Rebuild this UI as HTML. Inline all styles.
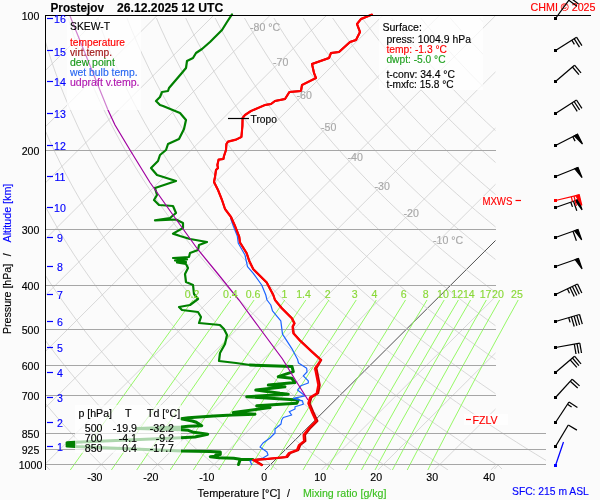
<!DOCTYPE html>
<html><head><meta charset="utf-8"><style>
html,body{margin:0;padding:0;background:#fbfbfb;}
body{width:600px;height:500px;overflow:hidden;position:relative;font-family:"Liberation Sans",sans-serif;}
svg{position:absolute;left:0;top:0;will-change:transform;}
text{font-family:"Liberation Sans",sans-serif;white-space:pre;}
</style></head><body>
<svg width="600" height="500" viewBox="0 0 600 500" xml:space="preserve">
<defs><clipPath id="cp"><rect x="45.5" y="15.5" width="450" height="454.5"/></clipPath></defs>
<g clip-path="url(#cp)" fill="none" stroke-width="0.75">
<line x1="-412.3" y1="470.0" x2="44.2" y2="15.5" stroke="#cccccc"/>
<line x1="-355.8" y1="470.0" x2="100.6" y2="15.5" stroke="#cccccc"/>
<line x1="-299.4" y1="470.0" x2="157.1" y2="15.5" stroke="#cccccc"/>
<line x1="-243.0" y1="470.0" x2="213.5" y2="15.5" stroke="#cccccc"/>
<line x1="-186.5" y1="470.0" x2="269.9" y2="15.5" stroke="#cccccc"/>
<line x1="-130.1" y1="470.0" x2="326.4" y2="15.5" stroke="#cccccc"/>
<line x1="-73.6" y1="470.0" x2="382.8" y2="15.5" stroke="#cccccc"/>
<line x1="-17.2" y1="470.0" x2="439.3" y2="15.5" stroke="#cccccc"/>
<line x1="39.2" y1="470.0" x2="495.7" y2="15.5" stroke="#cccccc"/>
<line x1="95.7" y1="470.0" x2="552.1" y2="15.5" stroke="#cccccc"/>
<line x1="152.1" y1="470.0" x2="608.6" y2="15.5" stroke="#cccccc"/>
<line x1="208.6" y1="470.0" x2="665.0" y2="15.5" stroke="#cccccc"/>
<line x1="265.0" y1="470.0" x2="721.5" y2="15.5" stroke="#505050" stroke-width="1"/>
<line x1="321.4" y1="470.0" x2="777.9" y2="15.5" stroke="#cccccc"/>
<line x1="377.9" y1="470.0" x2="834.3" y2="15.5" stroke="#cccccc"/>
<line x1="434.3" y1="470.0" x2="890.8" y2="15.5" stroke="#cccccc"/>
<line x1="490.8" y1="470.0" x2="947.2" y2="15.5" stroke="#cccccc"/>
<polyline stroke="#cccccc" points="49.9,470.0 46.1,466.0 42.5,462.0 38.8,458.0 35.3,454.0 31.7,450.0 28.2,446.0 24.8,442.0 21.4,438.0 18.0,434.0 14.7,430.0 11.4,426.0 8.2,422.0 5.0,418.0 1.9,414.0 -1.3,410.0 -4.3,406.0 -7.3,402.0 -10.3,398.0 -13.3,394.0 -16.2,390.0 -19.0,386.0 -21.9,382.0 -24.6,378.0 -27.4,374.0 -30.1,370.0 -32.7,366.0 -35.4,362.0 -38.0,358.0 -40.5,354.0 -43.0,350.0 -45.5,346.0 -47.9,342.0 -50.3,338.0 -52.7,334.0 -55.0,330.0 -57.3,326.0 -59.5,322.0 -61.7,318.0 -63.9,314.0 -66.1,310.0 -68.2,306.0 -70.2,302.0 -72.3,298.0 -74.3,294.0 -76.2,290.0 -78.1,286.0 -80.0,282.0 -81.9,278.0 -83.7,274.0 -85.5,270.0 -87.3,266.0 -89.0,262.0 -90.7,258.0 -92.3,254.0 -93.9,250.0 -95.5,246.0 -97.1,242.0 -98.6,238.0 -100.1,234.0 -101.6,230.0 -103.0,226.0 -104.4,222.0 -105.8,218.0 -107.1,214.0 -108.4,210.0 -109.7,206.0 -110.9,202.0 -112.1,198.0 -113.3,194.0 -114.4,190.0 -115.6,186.0 -116.6,182.0 -117.7,178.0 -118.7,174.0 -119.7,170.0 -120.7,166.0 -121.6,162.0 -122.6,158.0 -123.4,154.0 -124.3,150.0 -125.1,146.0 -125.9,142.0 -126.7,138.0 -127.4,134.0 -128.1,130.0 -128.8,126.0 -129.5,122.0 -130.1,118.0 -130.7,114.0 -131.3,110.0 -131.9,106.0 -132.4,102.0 -132.9,98.0 -133.4,94.0 -133.8,90.0 -134.2,86.0 -134.6,82.0 -135.0,78.0 -135.3,74.0 -135.6,70.0 -135.9,66.0 -136.2,62.0 -136.4,58.0 -136.7,54.0 -136.9,50.0 -137.0,46.0 -137.2,42.0 -137.3,38.0 -137.4,34.0 -137.5,30.0 -137.5,26.0 -137.5,22.0 -137.5,18.0"/>
<polyline stroke="#cccccc" points="106.8,470.0 102.7,466.0 98.7,462.0 94.8,458.0 90.8,454.0 87.0,450.0 83.2,446.0 79.4,442.0 75.7,438.0 72.0,434.0 68.4,430.0 64.8,426.0 61.2,422.0 57.7,418.0 54.3,414.0 50.9,410.0 47.5,406.0 44.2,402.0 40.9,398.0 37.6,394.0 34.4,390.0 31.3,386.0 28.2,382.0 25.1,378.0 22.1,374.0 19.1,370.0 16.1,366.0 13.2,362.0 10.3,358.0 7.5,354.0 4.7,350.0 2.0,346.0 -0.7,342.0 -3.4,338.0 -6.0,334.0 -8.6,330.0 -11.2,326.0 -13.7,322.0 -16.2,318.0 -18.6,314.0 -21.0,310.0 -23.4,306.0 -25.7,302.0 -28.0,298.0 -30.3,294.0 -32.5,290.0 -34.7,286.0 -36.8,282.0 -38.9,278.0 -41.0,274.0 -43.0,270.0 -45.0,266.0 -47.0,262.0 -48.9,258.0 -50.8,254.0 -52.7,250.0 -54.5,246.0 -56.3,242.0 -58.1,238.0 -59.8,234.0 -61.5,230.0 -63.2,226.0 -64.8,222.0 -66.4,218.0 -68.0,214.0 -69.5,210.0 -71.0,206.0 -72.4,202.0 -73.9,198.0 -75.3,194.0 -76.6,190.0 -78.0,186.0 -79.3,182.0 -80.6,178.0 -81.8,174.0 -83.0,170.0 -84.2,166.0 -85.4,162.0 -86.5,158.0 -87.6,154.0 -88.7,150.0 -89.7,146.0 -90.7,142.0 -91.7,138.0 -92.6,134.0 -93.5,130.0 -94.4,126.0 -95.3,122.0 -96.1,118.0 -96.9,114.0 -97.7,110.0 -98.4,106.0 -99.2,102.0 -99.9,98.0 -100.5,94.0 -101.2,90.0 -101.8,86.0 -102.3,82.0 -102.9,78.0 -103.4,74.0 -103.9,70.0 -104.4,66.0 -104.9,62.0 -105.3,58.0 -105.7,54.0 -106.1,50.0 -106.4,46.0 -106.7,42.0 -107.0,38.0 -107.3,34.0 -107.5,30.0 -107.8,26.0 -108.0,22.0 -108.1,18.0"/>
<polyline stroke="#cccccc" points="163.7,470.0 159.3,466.0 154.9,462.0 150.7,458.0 146.4,454.0 142.2,450.0 138.1,446.0 134.0,442.0 130.0,438.0 126.0,434.0 122.0,430.0 118.1,426.0 114.3,422.0 110.5,418.0 106.7,414.0 103.0,410.0 99.3,406.0 95.7,402.0 92.1,398.0 88.6,394.0 85.1,390.0 81.6,386.0 78.2,382.0 74.8,378.0 71.5,374.0 68.2,370.0 65.0,366.0 61.8,362.0 58.6,358.0 55.5,354.0 52.5,350.0 49.4,346.0 46.5,342.0 43.5,338.0 40.6,334.0 37.7,330.0 34.9,326.0 32.1,322.0 29.4,318.0 26.7,314.0 24.0,310.0 21.4,306.0 18.8,302.0 16.2,298.0 13.7,294.0 11.3,290.0 8.8,286.0 6.4,282.0 4.1,278.0 1.7,274.0 -0.6,270.0 -2.8,266.0 -5.0,262.0 -7.2,258.0 -9.3,254.0 -11.4,250.0 -13.5,246.0 -15.5,242.0 -17.5,238.0 -19.5,234.0 -21.4,230.0 -23.3,226.0 -25.2,222.0 -27.0,218.0 -28.8,214.0 -30.6,210.0 -32.3,206.0 -34.0,202.0 -35.6,198.0 -37.3,194.0 -38.9,190.0 -40.4,186.0 -41.9,182.0 -43.4,178.0 -44.9,174.0 -46.3,170.0 -47.7,166.0 -49.1,162.0 -50.4,158.0 -51.7,154.0 -53.0,150.0 -54.3,146.0 -55.5,142.0 -56.6,138.0 -57.8,134.0 -58.9,130.0 -60.0,126.0 -61.1,122.0 -62.1,118.0 -63.1,114.0 -64.1,110.0 -65.0,106.0 -65.9,102.0 -66.8,98.0 -67.7,94.0 -68.5,90.0 -69.3,86.0 -70.1,82.0 -70.8,78.0 -71.5,74.0 -72.2,70.0 -72.9,66.0 -73.5,62.0 -74.1,58.0 -74.7,54.0 -75.3,50.0 -75.8,46.0 -76.3,42.0 -76.8,38.0 -77.2,34.0 -77.6,30.0 -78.0,26.0 -78.4,22.0 -78.8,18.0"/>
<polyline stroke="#cccccc" points="220.5,470.0 215.8,466.0 211.2,462.0 206.6,458.0 202.0,454.0 197.5,450.0 193.0,446.0 188.6,442.0 184.3,438.0 180.0,434.0 175.7,430.0 171.5,426.0 167.3,422.0 163.2,418.0 159.1,414.0 155.1,410.0 151.1,406.0 147.2,402.0 143.3,398.0 139.5,394.0 135.7,390.0 131.9,386.0 128.2,382.0 124.6,378.0 121.0,374.0 117.4,370.0 113.9,366.0 110.4,362.0 107.0,358.0 103.6,354.0 100.2,350.0 96.9,346.0 93.6,342.0 90.4,338.0 87.2,334.0 84.1,330.0 81.0,326.0 78.0,322.0 74.9,318.0 72.0,314.0 69.0,310.0 66.2,306.0 63.3,302.0 60.5,298.0 57.7,294.0 55.0,290.0 52.3,286.0 49.6,282.0 47.0,278.0 44.5,274.0 41.9,270.0 39.4,266.0 37.0,262.0 34.5,258.0 32.2,254.0 29.8,250.0 27.5,246.0 25.2,242.0 23.0,238.0 20.8,234.0 18.6,230.0 16.5,226.0 14.4,222.0 12.3,218.0 10.3,214.0 8.3,210.0 6.4,206.0 4.5,202.0 2.6,198.0 0.7,194.0 -1.1,190.0 -2.9,186.0 -4.6,182.0 -6.3,178.0 -8.0,174.0 -9.6,170.0 -11.2,166.0 -12.8,162.0 -14.4,158.0 -15.9,154.0 -17.4,150.0 -18.8,146.0 -20.2,142.0 -21.6,138.0 -23.0,134.0 -24.3,130.0 -25.6,126.0 -26.9,122.0 -28.1,118.0 -29.3,114.0 -30.5,110.0 -31.6,106.0 -32.7,102.0 -33.8,98.0 -34.8,94.0 -35.9,90.0 -36.8,86.0 -37.8,82.0 -38.7,78.0 -39.6,74.0 -40.5,70.0 -41.4,66.0 -42.2,62.0 -43.0,58.0 -43.7,54.0 -44.5,50.0 -45.2,46.0 -45.9,42.0 -46.5,38.0 -47.1,34.0 -47.7,30.0 -48.3,26.0 -48.8,22.0 -49.4,18.0"/>
<polyline stroke="#cccccc" points="277.4,470.0 272.4,466.0 267.4,462.0 262.5,458.0 257.6,454.0 252.8,450.0 248.0,446.0 243.2,442.0 238.6,438.0 233.9,434.0 229.4,430.0 224.8,426.0 220.4,422.0 215.9,418.0 211.6,414.0 207.2,410.0 202.9,406.0 198.7,402.0 194.5,398.0 190.4,394.0 186.3,390.0 182.3,386.0 178.3,382.0 174.3,378.0 170.4,374.0 166.6,370.0 162.7,366.0 159.0,362.0 155.3,358.0 151.6,354.0 148.0,350.0 144.4,346.0 140.8,342.0 137.3,338.0 133.9,334.0 130.5,330.0 127.1,326.0 123.8,322.0 120.5,318.0 117.3,314.0 114.1,310.0 110.9,306.0 107.8,302.0 104.7,298.0 101.7,294.0 98.7,290.0 95.8,286.0 92.9,282.0 90.0,278.0 87.2,274.0 84.4,270.0 81.6,266.0 78.9,262.0 76.3,258.0 73.6,254.0 71.1,250.0 68.5,246.0 66.0,242.0 63.5,238.0 61.1,234.0 58.7,230.0 56.3,226.0 54.0,222.0 51.7,218.0 49.5,214.0 47.2,210.0 45.1,206.0 42.9,202.0 40.8,198.0 38.7,194.0 36.7,190.0 34.7,186.0 32.8,182.0 30.8,178.0 28.9,174.0 27.1,170.0 25.2,166.0 23.4,162.0 21.7,158.0 20.0,154.0 18.3,150.0 16.6,146.0 15.0,142.0 13.4,138.0 11.8,134.0 10.3,130.0 8.8,126.0 7.4,122.0 5.9,118.0 4.5,114.0 3.2,110.0 1.8,106.0 0.5,102.0 -0.8,98.0 -2.0,94.0 -3.2,90.0 -4.4,86.0 -5.5,82.0 -6.7,78.0 -7.8,74.0 -8.8,70.0 -9.8,66.0 -10.8,62.0 -11.8,58.0 -12.8,54.0 -13.7,50.0 -14.6,46.0 -15.4,42.0 -16.2,38.0 -17.1,34.0 -17.8,30.0 -18.6,26.0 -19.3,22.0 -20.0,18.0"/>
<polyline stroke="#cccccc" points="334.3,470.0 329.0,466.0 323.6,462.0 318.4,458.0 313.2,454.0 308.0,450.0 302.9,446.0 297.9,442.0 292.9,438.0 287.9,434.0 283.0,430.0 278.2,426.0 273.4,422.0 268.7,418.0 264.0,414.0 259.3,410.0 254.8,406.0 250.2,402.0 245.7,398.0 241.3,394.0 236.9,390.0 232.6,386.0 228.3,382.0 224.0,378.0 219.9,374.0 215.7,370.0 211.6,366.0 207.6,362.0 203.6,358.0 199.6,354.0 195.7,350.0 191.8,346.0 188.0,342.0 184.2,338.0 180.5,334.0 176.8,330.0 173.2,326.0 169.6,322.0 166.1,318.0 162.6,314.0 159.1,310.0 155.7,306.0 152.3,302.0 149.0,298.0 145.7,294.0 142.5,290.0 139.3,286.0 136.1,282.0 133.0,278.0 129.9,274.0 126.9,270.0 123.9,266.0 120.9,262.0 118.0,258.0 115.1,254.0 112.3,250.0 109.5,246.0 106.8,242.0 104.1,238.0 101.4,234.0 98.7,230.0 96.2,226.0 93.6,222.0 91.1,218.0 88.6,214.0 86.2,210.0 83.7,206.0 81.4,202.0 79.1,198.0 76.8,194.0 74.5,190.0 72.3,186.0 70.1,182.0 68.0,178.0 65.8,174.0 63.8,170.0 61.7,166.0 59.7,162.0 57.8,158.0 55.8,154.0 53.9,150.0 52.1,146.0 50.2,142.0 48.4,138.0 46.7,134.0 44.9,130.0 43.2,126.0 41.6,122.0 39.9,118.0 38.3,114.0 36.8,110.0 35.2,106.0 33.7,102.0 32.3,98.0 30.8,94.0 29.4,90.0 28.1,86.0 26.7,82.0 25.4,78.0 24.1,74.0 22.9,70.0 21.7,66.0 20.5,62.0 19.3,58.0 18.2,54.0 17.1,50.0 16.1,46.0 15.0,42.0 14.0,38.0 13.0,34.0 12.1,30.0 11.2,26.0 10.3,22.0 9.4,18.0"/>
<polyline stroke="#cccccc" points="391.2,470.0 385.5,466.0 379.9,462.0 374.3,458.0 368.8,454.0 363.3,450.0 357.8,446.0 352.5,442.0 347.2,438.0 341.9,434.0 336.7,430.0 331.5,426.0 326.4,422.0 321.4,418.0 316.4,414.0 311.5,410.0 306.6,406.0 301.7,402.0 296.9,398.0 292.2,394.0 287.5,390.0 282.9,386.0 278.3,382.0 273.8,378.0 269.3,374.0 264.9,370.0 260.5,366.0 256.2,362.0 251.9,358.0 247.6,354.0 243.4,350.0 239.3,346.0 235.2,342.0 231.2,338.0 227.2,334.0 223.2,330.0 219.3,326.0 215.4,322.0 211.6,318.0 207.9,314.0 204.1,310.0 200.5,306.0 196.8,302.0 193.2,298.0 189.7,294.0 186.2,290.0 182.7,286.0 179.3,282.0 176.0,278.0 172.6,274.0 169.3,270.0 166.1,266.0 162.9,262.0 159.7,258.0 156.6,254.0 153.6,250.0 150.5,246.0 147.5,242.0 144.6,238.0 141.7,234.0 138.8,230.0 136.0,226.0 133.2,222.0 130.4,218.0 127.7,214.0 125.1,210.0 122.4,206.0 119.8,202.0 117.3,198.0 114.8,194.0 112.3,190.0 109.9,186.0 107.4,182.0 105.1,178.0 102.8,174.0 100.5,170.0 98.2,166.0 96.0,162.0 93.8,158.0 91.7,154.0 89.6,150.0 87.5,146.0 85.4,142.0 83.4,138.0 81.5,134.0 79.5,130.0 77.6,126.0 75.8,122.0 74.0,118.0 72.2,114.0 70.4,110.0 68.7,106.0 67.0,102.0 65.3,98.0 63.7,94.0 62.1,90.0 60.5,86.0 59.0,82.0 57.5,78.0 56.0,74.0 54.6,70.0 53.2,66.0 51.8,62.0 50.5,58.0 49.2,54.0 47.9,50.0 46.7,46.0 45.5,42.0 44.3,38.0 43.1,34.0 42.0,30.0 40.9,26.0 39.8,22.0 38.8,18.0"/>
<polyline stroke="#cccccc" points="448.1,470.0 442.1,466.0 436.1,462.0 430.2,458.0 424.3,454.0 418.5,450.0 412.8,446.0 407.1,442.0 401.5,438.0 395.9,434.0 390.4,430.0 384.9,426.0 379.5,422.0 374.1,418.0 368.8,414.0 363.6,410.0 358.4,406.0 353.2,402.0 348.2,398.0 343.1,394.0 338.1,390.0 333.2,386.0 328.3,382.0 323.5,378.0 318.7,374.0 314.0,370.0 309.4,366.0 304.7,362.0 300.2,358.0 295.7,354.0 291.2,350.0 286.8,346.0 282.4,342.0 278.1,338.0 273.8,334.0 269.6,330.0 265.4,326.0 261.3,322.0 257.2,318.0 253.2,314.0 249.2,310.0 245.2,306.0 241.3,302.0 237.5,298.0 233.7,294.0 229.9,290.0 226.2,286.0 222.5,282.0 218.9,278.0 215.4,274.0 211.8,270.0 208.3,266.0 204.9,262.0 201.5,258.0 198.1,254.0 194.8,250.0 191.5,246.0 188.3,242.0 185.1,238.0 182.0,234.0 178.9,230.0 175.8,226.0 172.8,222.0 169.8,218.0 166.9,214.0 164.0,210.0 161.1,206.0 158.3,202.0 155.5,198.0 152.8,194.0 150.1,190.0 147.4,186.0 144.8,182.0 142.2,178.0 139.7,174.0 137.2,170.0 134.7,166.0 132.3,162.0 129.9,158.0 127.5,154.0 125.2,150.0 122.9,146.0 120.7,142.0 118.5,138.0 116.3,134.0 114.2,130.0 112.1,126.0 110.0,122.0 108.0,118.0 106.0,114.0 104.0,110.0 102.1,106.0 100.2,102.0 98.3,98.0 96.5,94.0 94.7,90.0 93.0,86.0 91.3,82.0 89.6,78.0 87.9,74.0 86.3,70.0 84.7,66.0 83.2,62.0 81.7,58.0 80.2,54.0 78.7,50.0 77.3,46.0 75.9,42.0 74.5,38.0 73.2,34.0 71.9,30.0 70.6,26.0 69.4,22.0 68.2,18.0"/>
<polyline stroke="#cccccc" points="505.0,470.0 498.7,466.0 492.3,462.0 486.1,458.0 479.9,454.0 473.8,450.0 467.7,446.0 461.7,442.0 455.8,438.0 449.9,434.0 444.0,430.0 438.2,426.0 432.5,422.0 426.9,418.0 421.2,414.0 415.7,410.0 410.2,406.0 404.8,402.0 399.4,398.0 394.0,394.0 388.8,390.0 383.5,386.0 378.4,382.0 373.3,378.0 368.2,374.0 363.2,370.0 358.2,366.0 353.3,362.0 348.5,358.0 343.7,354.0 338.9,350.0 334.2,346.0 329.6,342.0 325.0,338.0 320.4,334.0 315.9,330.0 311.5,326.0 307.1,322.0 302.8,318.0 298.5,314.0 294.2,310.0 290.0,306.0 285.8,302.0 281.7,298.0 277.7,294.0 273.7,290.0 269.7,286.0 265.8,282.0 261.9,278.0 258.1,274.0 254.3,270.0 250.6,266.0 246.9,262.0 243.2,258.0 239.6,254.0 236.1,250.0 232.5,246.0 229.1,242.0 225.7,238.0 222.3,234.0 218.9,230.0 215.6,226.0 212.4,222.0 209.2,218.0 206.0,214.0 202.9,210.0 199.8,206.0 196.8,202.0 193.7,198.0 190.8,194.0 187.9,190.0 185.0,186.0 182.1,182.0 179.3,178.0 176.6,174.0 173.9,170.0 171.2,166.0 168.5,162.0 165.9,158.0 163.4,154.0 160.8,150.0 158.4,146.0 155.9,142.0 153.5,138.0 151.1,134.0 148.8,130.0 146.5,126.0 144.2,122.0 142.0,118.0 139.8,114.0 137.6,110.0 135.5,106.0 133.4,102.0 131.4,98.0 129.4,94.0 127.4,90.0 125.4,86.0 123.5,82.0 121.7,78.0 119.8,74.0 118.0,70.0 116.3,66.0 114.5,62.0 112.8,58.0 111.1,54.0 109.5,50.0 107.9,46.0 106.3,42.0 104.8,38.0 103.3,34.0 101.8,30.0 100.4,26.0 99.0,22.0 97.6,18.0"/>
<polyline stroke="#cccccc" points="561.9,470.0 555.2,466.0 548.6,462.0 542.0,458.0 535.5,454.0 529.0,450.0 522.6,446.0 516.3,442.0 510.0,438.0 503.8,434.0 497.7,430.0 491.6,426.0 485.6,422.0 479.6,418.0 473.7,414.0 467.8,410.0 462.0,406.0 456.3,402.0 450.6,398.0 445.0,394.0 439.4,390.0 433.9,386.0 428.4,382.0 423.0,378.0 417.6,374.0 412.3,370.0 407.1,366.0 401.9,362.0 396.8,358.0 391.7,354.0 386.7,350.0 381.7,346.0 376.8,342.0 371.9,338.0 367.1,334.0 362.3,330.0 357.6,326.0 352.9,322.0 348.3,318.0 343.7,314.0 339.2,310.0 334.8,306.0 330.3,302.0 326.0,298.0 321.7,294.0 317.4,290.0 313.2,286.0 309.0,282.0 304.9,278.0 300.8,274.0 296.8,270.0 292.8,266.0 288.8,262.0 285.0,258.0 281.1,254.0 277.3,250.0 273.6,246.0 269.9,242.0 266.2,238.0 262.6,234.0 259.0,230.0 255.5,226.0 252.0,222.0 248.5,218.0 245.1,214.0 241.8,210.0 238.5,206.0 235.2,202.0 232.0,198.0 228.8,194.0 225.7,190.0 222.6,186.0 219.5,182.0 216.5,178.0 213.5,174.0 210.6,170.0 207.7,166.0 204.8,162.0 202.0,158.0 199.2,154.0 196.5,150.0 193.8,146.0 191.1,142.0 188.5,138.0 185.9,134.0 183.4,130.0 180.9,126.0 178.4,122.0 176.0,118.0 173.6,114.0 171.3,110.0 168.9,106.0 166.7,102.0 164.4,98.0 162.2,94.0 160.0,90.0 157.9,86.0 155.8,82.0 153.7,78.0 151.7,74.0 149.7,70.0 147.8,66.0 145.9,62.0 144.0,58.0 142.1,54.0 140.3,50.0 138.5,46.0 136.8,42.0 135.1,38.0 133.4,34.0 131.7,30.0 130.1,26.0 128.5,22.0 127.0,18.0"/>
<polyline stroke="#cccccc" points="618.8,470.0 611.8,466.0 604.8,462.0 597.9,458.0 591.1,454.0 584.3,450.0 577.6,446.0 570.9,442.0 564.3,438.0 557.8,434.0 551.4,430.0 544.9,426.0 538.6,422.0 532.3,418.0 526.1,414.0 519.9,410.0 513.8,406.0 507.8,402.0 501.8,398.0 495.9,394.0 490.0,390.0 484.2,386.0 478.4,382.0 472.7,378.0 467.1,374.0 461.5,370.0 456.0,366.0 450.5,362.0 445.1,358.0 439.7,354.0 434.4,350.0 429.2,346.0 424.0,342.0 418.8,338.0 413.7,334.0 408.7,330.0 403.7,326.0 398.8,322.0 393.9,318.0 389.0,314.0 384.3,310.0 379.5,306.0 374.9,302.0 370.2,298.0 365.7,294.0 361.1,290.0 356.7,286.0 352.2,282.0 347.9,278.0 343.5,274.0 339.2,270.0 335.0,266.0 330.8,262.0 326.7,258.0 322.6,254.0 318.6,250.0 314.6,246.0 310.6,242.0 306.7,238.0 302.9,234.0 299.1,230.0 295.3,226.0 291.6,222.0 287.9,218.0 284.3,214.0 280.7,210.0 277.2,206.0 273.7,202.0 270.2,198.0 266.8,194.0 263.4,190.0 260.1,186.0 256.8,182.0 253.6,178.0 250.4,174.0 247.3,170.0 244.2,166.0 241.1,162.0 238.1,158.0 235.1,154.0 232.1,150.0 229.2,146.0 226.4,142.0 223.5,138.0 220.7,134.0 218.0,130.0 215.3,126.0 212.6,122.0 210.0,118.0 207.4,114.0 204.9,110.0 202.4,106.0 199.9,102.0 197.4,98.0 195.1,94.0 192.7,90.0 190.4,86.0 188.1,82.0 185.8,78.0 183.6,74.0 181.4,70.0 179.3,66.0 177.2,62.0 175.1,58.0 173.1,54.0 171.1,50.0 169.1,46.0 167.2,42.0 165.3,38.0 163.5,34.0 161.6,30.0 159.8,26.0 158.1,22.0 156.4,18.0"/>
<polyline stroke="#cccccc" points="675.7,470.0 668.3,466.0 661.1,462.0 653.8,458.0 646.7,454.0 639.6,450.0 632.5,446.0 625.5,442.0 618.6,438.0 611.8,434.0 605.0,430.0 598.3,426.0 591.6,422.0 585.1,418.0 578.5,414.0 572.1,410.0 565.6,406.0 559.3,402.0 553.0,398.0 546.8,394.0 540.6,390.0 534.5,386.0 528.5,382.0 522.5,378.0 516.5,374.0 510.7,370.0 504.8,366.0 499.1,362.0 493.4,358.0 487.7,354.0 482.2,350.0 476.6,346.0 471.1,342.0 465.7,338.0 460.4,334.0 455.0,330.0 449.8,326.0 444.6,322.0 439.4,318.0 434.3,314.0 429.3,310.0 424.3,306.0 419.4,302.0 414.5,298.0 409.6,294.0 404.9,290.0 400.1,286.0 395.5,282.0 390.8,278.0 386.2,274.0 381.7,270.0 377.2,266.0 372.8,262.0 368.4,258.0 364.1,254.0 359.8,250.0 355.6,246.0 351.4,242.0 347.3,238.0 343.2,234.0 339.1,230.0 335.1,226.0 331.2,222.0 327.3,218.0 323.4,214.0 319.6,210.0 315.8,206.0 312.1,202.0 308.4,198.0 304.8,194.0 301.2,190.0 297.7,186.0 294.2,182.0 290.7,178.0 287.3,174.0 284.0,170.0 280.6,166.0 277.4,162.0 274.1,158.0 270.9,154.0 267.8,150.0 264.7,146.0 261.6,142.0 258.6,138.0 255.6,134.0 252.6,130.0 249.7,126.0 246.8,122.0 244.0,118.0 241.2,114.0 238.5,110.0 235.8,106.0 233.1,102.0 230.5,98.0 227.9,94.0 225.3,90.0 222.8,86.0 220.4,82.0 217.9,78.0 215.5,74.0 213.2,70.0 210.8,66.0 208.5,62.0 206.3,58.0 204.1,54.0 201.9,50.0 199.7,46.0 197.6,42.0 195.6,38.0 193.5,34.0 191.5,30.0 189.6,26.0 187.6,22.0 185.7,18.0"/>
<polyline stroke="#cccccc" points="732.6,470.0 724.9,466.0 717.3,462.0 709.7,458.0 702.2,454.0 694.8,450.0 687.5,446.0 680.2,442.0 672.9,438.0 665.8,434.0 658.7,430.0 651.7,426.0 644.7,422.0 637.8,418.0 630.9,414.0 624.2,410.0 617.5,406.0 610.8,402.0 604.2,398.0 597.7,394.0 591.2,390.0 584.8,386.0 578.5,382.0 572.2,378.0 566.0,374.0 559.8,370.0 553.7,366.0 547.7,362.0 541.7,358.0 535.8,354.0 529.9,350.0 524.1,346.0 518.3,342.0 512.6,338.0 507.0,334.0 501.4,330.0 495.9,326.0 490.4,322.0 485.0,318.0 479.6,314.0 474.3,310.0 469.1,306.0 463.9,302.0 458.7,298.0 453.6,294.0 448.6,290.0 443.6,286.0 438.7,282.0 433.8,278.0 429.0,274.0 424.2,270.0 419.5,266.0 414.8,262.0 410.2,258.0 405.6,254.0 401.1,250.0 396.6,246.0 392.2,242.0 387.8,238.0 383.5,234.0 379.2,230.0 375.0,226.0 370.8,222.0 366.6,218.0 362.6,214.0 358.5,210.0 354.5,206.0 350.6,202.0 346.7,198.0 342.8,194.0 339.0,190.0 335.3,186.0 331.5,182.0 327.9,178.0 324.2,174.0 320.7,170.0 317.1,166.0 313.6,162.0 310.2,158.0 306.8,154.0 303.4,150.0 300.1,146.0 296.8,142.0 293.6,138.0 290.4,134.0 287.2,130.0 284.1,126.0 281.1,122.0 278.0,118.0 275.0,114.0 272.1,110.0 269.2,106.0 266.3,102.0 263.5,98.0 260.7,94.0 258.0,90.0 255.3,86.0 252.6,82.0 250.0,78.0 247.4,74.0 244.9,70.0 242.3,66.0 239.9,62.0 237.4,58.0 235.0,54.0 232.7,50.0 230.4,46.0 228.1,42.0 225.8,38.0 223.6,34.0 221.4,30.0 219.3,26.0 217.2,22.0 215.1,18.0"/>
<polyline stroke="#cccccc" points="789.5,470.0 781.5,466.0 773.5,462.0 765.6,458.0 757.8,454.0 750.1,450.0 742.4,446.0 734.8,442.0 727.2,438.0 719.8,434.0 712.3,430.0 705.0,426.0 697.7,422.0 690.5,418.0 683.4,414.0 676.3,410.0 669.3,406.0 662.3,402.0 655.4,398.0 648.6,394.0 641.9,390.0 635.2,386.0 628.5,382.0 621.9,378.0 615.4,374.0 609.0,370.0 602.6,366.0 596.3,362.0 590.0,358.0 583.8,354.0 577.6,350.0 571.6,346.0 565.5,342.0 559.5,338.0 553.6,334.0 547.8,330.0 542.0,326.0 536.2,322.0 530.6,318.0 524.9,314.0 519.4,310.0 513.8,306.0 508.4,302.0 503.0,298.0 497.6,294.0 492.3,290.0 487.1,286.0 481.9,282.0 476.8,278.0 471.7,274.0 466.7,270.0 461.7,266.0 456.8,262.0 451.9,258.0 447.1,254.0 442.3,250.0 437.6,246.0 432.9,242.0 428.3,238.0 423.8,234.0 419.2,230.0 414.8,226.0 410.4,222.0 406.0,218.0 401.7,214.0 397.4,210.0 393.2,206.0 389.0,202.0 384.9,198.0 380.8,194.0 376.8,190.0 372.8,186.0 368.9,182.0 365.0,178.0 361.2,174.0 357.4,170.0 353.6,166.0 349.9,162.0 346.2,158.0 342.6,154.0 339.1,150.0 335.5,146.0 332.0,142.0 328.6,138.0 325.2,134.0 321.8,130.0 318.5,126.0 315.3,122.0 312.0,118.0 308.9,114.0 305.7,110.0 302.6,106.0 299.6,102.0 296.5,98.0 293.6,94.0 290.6,90.0 287.7,86.0 284.9,82.0 282.1,78.0 279.3,74.0 276.6,70.0 273.9,66.0 271.2,62.0 268.6,58.0 266.0,54.0 263.5,50.0 261.0,46.0 258.5,42.0 256.1,38.0 253.7,34.0 251.4,30.0 249.0,26.0 246.8,22.0 244.5,18.0"/>
<polyline stroke="#cccccc" points="846.4,470.0 838.0,466.0 829.8,462.0 821.5,458.0 813.4,454.0 805.3,450.0 797.3,446.0 789.4,442.0 781.5,438.0 773.7,434.0 766.0,430.0 758.4,426.0 750.8,422.0 743.2,418.0 735.8,414.0 728.4,410.0 721.1,406.0 713.8,402.0 706.6,398.0 699.5,394.0 692.5,390.0 685.5,386.0 678.5,382.0 671.7,378.0 664.9,374.0 658.1,370.0 651.5,366.0 644.9,362.0 638.3,358.0 631.8,354.0 625.4,350.0 619.0,346.0 612.7,342.0 606.5,338.0 600.3,334.0 594.1,330.0 588.1,326.0 582.1,322.0 576.1,318.0 570.2,314.0 564.4,310.0 558.6,306.0 552.9,302.0 547.2,298.0 541.6,294.0 536.1,290.0 530.6,286.0 525.1,282.0 519.7,278.0 514.4,274.0 509.1,270.0 503.9,266.0 498.8,262.0 493.6,258.0 488.6,254.0 483.6,250.0 478.6,246.0 473.7,242.0 468.9,238.0 464.1,234.0 459.3,230.0 454.6,226.0 450.0,222.0 445.4,218.0 440.8,214.0 436.3,210.0 431.9,206.0 427.5,202.0 423.1,198.0 418.8,194.0 414.6,190.0 410.4,186.0 406.2,182.0 402.1,178.0 398.1,174.0 394.1,170.0 390.1,166.0 386.2,162.0 382.3,158.0 378.5,154.0 374.7,150.0 371.0,146.0 367.3,142.0 363.6,138.0 360.0,134.0 356.5,130.0 353.0,126.0 349.5,122.0 346.1,118.0 342.7,114.0 339.3,110.0 336.0,106.0 332.8,102.0 329.6,98.0 326.4,94.0 323.3,90.0 320.2,86.0 317.2,82.0 314.2,78.0 311.2,74.0 308.3,70.0 305.4,66.0 302.6,62.0 299.8,58.0 297.0,54.0 294.3,50.0 291.6,46.0 289.0,42.0 286.4,38.0 283.8,34.0 281.3,30.0 278.8,26.0 276.3,22.0 273.9,18.0"/>
<polyline stroke="#cccccc" points="903.3,470.0 894.6,466.0 886.0,462.0 877.4,458.0 869.0,454.0 860.6,450.0 852.3,446.0 844.0,442.0 835.8,438.0 827.7,434.0 819.7,430.0 811.7,426.0 803.8,422.0 796.0,418.0 788.2,414.0 780.5,410.0 772.9,406.0 765.3,402.0 757.9,398.0 750.4,394.0 743.1,390.0 735.8,386.0 728.6,382.0 721.4,378.0 714.3,374.0 707.3,370.0 700.3,366.0 693.4,362.0 686.6,358.0 679.8,354.0 673.1,350.0 666.5,346.0 659.9,342.0 653.4,338.0 646.9,334.0 640.5,330.0 634.2,326.0 627.9,322.0 621.7,318.0 615.5,314.0 609.4,310.0 603.4,306.0 597.4,302.0 591.5,298.0 585.6,294.0 579.8,290.0 574.1,286.0 568.4,282.0 562.7,278.0 557.1,274.0 551.6,270.0 546.1,266.0 540.7,262.0 535.4,258.0 530.1,254.0 524.8,250.0 519.6,246.0 514.5,242.0 509.4,238.0 504.4,234.0 499.4,230.0 494.4,226.0 489.6,222.0 484.7,218.0 480.0,214.0 475.2,210.0 470.6,206.0 465.9,202.0 461.4,198.0 456.9,194.0 452.4,190.0 448.0,186.0 443.6,182.0 439.3,178.0 435.0,174.0 430.8,170.0 426.6,166.0 422.4,162.0 418.4,158.0 414.3,154.0 410.3,150.0 406.4,146.0 402.5,142.0 398.6,138.0 394.8,134.0 391.1,130.0 387.4,126.0 383.7,122.0 380.1,118.0 376.5,114.0 373.0,110.0 369.5,106.0 366.0,102.0 362.6,98.0 359.3,94.0 355.9,90.0 352.7,86.0 349.4,82.0 346.2,78.0 343.1,74.0 340.0,70.0 336.9,66.0 333.9,62.0 330.9,58.0 328.0,54.0 325.1,50.0 322.2,46.0 319.4,42.0 316.6,38.0 313.9,34.0 311.2,30.0 308.5,26.0 305.9,22.0 303.3,18.0"/>
<polyline stroke="#cccccc" points="960.2,470.0 951.2,466.0 942.2,462.0 933.4,458.0 924.6,454.0 915.8,450.0 907.2,446.0 898.6,442.0 890.1,438.0 881.7,434.0 873.3,430.0 865.1,426.0 856.8,422.0 848.7,418.0 840.6,414.0 832.6,410.0 824.7,406.0 816.9,402.0 809.1,398.0 801.4,394.0 793.7,390.0 786.1,386.0 778.6,382.0 771.2,378.0 763.8,374.0 756.5,370.0 749.2,366.0 742.0,362.0 734.9,358.0 727.9,354.0 720.9,350.0 713.9,346.0 707.1,342.0 700.3,338.0 693.6,334.0 686.9,330.0 680.3,326.0 673.7,322.0 667.2,318.0 660.8,314.0 654.5,310.0 648.2,306.0 641.9,302.0 635.7,298.0 629.6,294.0 623.5,290.0 617.5,286.0 611.6,282.0 605.7,278.0 599.9,274.0 594.1,270.0 588.4,266.0 582.7,262.0 577.1,258.0 571.6,254.0 566.1,250.0 560.6,246.0 555.3,242.0 549.9,238.0 544.7,234.0 539.4,230.0 534.3,226.0 529.2,222.0 524.1,218.0 519.1,214.0 514.1,210.0 509.2,206.0 504.4,202.0 499.6,198.0 494.9,194.0 490.2,190.0 485.5,186.0 480.9,182.0 476.4,178.0 471.9,174.0 467.5,170.0 463.1,166.0 458.7,162.0 454.4,158.0 450.2,154.0 446.0,150.0 441.8,146.0 437.7,142.0 433.7,138.0 429.7,134.0 425.7,130.0 421.8,126.0 417.9,122.0 414.1,118.0 410.3,114.0 406.6,110.0 402.9,106.0 399.2,102.0 395.6,98.0 392.1,94.0 388.6,90.0 385.1,86.0 381.7,82.0 378.3,78.0 375.0,74.0 371.7,70.0 368.4,66.0 365.2,62.0 362.1,58.0 358.9,54.0 355.9,50.0 352.8,46.0 349.8,42.0 346.9,38.0 344.0,34.0 341.1,30.0 338.2,26.0 335.4,22.0 332.7,18.0"/>
<polyline stroke="#cccccc" points="1017.1,470.0 1007.7,466.0 998.5,462.0 989.3,458.0 980.1,454.0 971.1,450.0 962.1,446.0 953.2,442.0 944.4,438.0 935.7,434.0 927.0,430.0 918.4,426.0 909.9,422.0 901.4,418.0 893.1,414.0 884.8,410.0 876.5,406.0 868.4,402.0 860.3,398.0 852.3,394.0 844.3,390.0 836.4,386.0 828.6,382.0 820.9,378.0 813.2,374.0 805.6,370.0 798.1,366.0 790.6,362.0 783.2,358.0 775.9,354.0 768.6,350.0 761.4,346.0 754.3,342.0 747.2,338.0 740.2,334.0 733.3,330.0 726.4,326.0 719.6,322.0 712.8,318.0 706.1,314.0 699.5,310.0 692.9,306.0 686.4,302.0 680.0,298.0 673.6,294.0 667.3,290.0 661.0,286.0 654.8,282.0 648.7,278.0 642.6,274.0 636.6,270.0 630.6,266.0 624.7,262.0 618.8,258.0 613.1,254.0 607.3,250.0 601.6,246.0 596.0,242.0 590.5,238.0 585.0,234.0 579.5,230.0 574.1,226.0 568.8,222.0 563.5,218.0 558.2,214.0 553.1,210.0 547.9,206.0 542.9,202.0 537.8,198.0 532.9,194.0 528.0,190.0 523.1,186.0 518.3,182.0 513.5,178.0 508.8,174.0 504.2,170.0 499.5,166.0 495.0,162.0 490.5,158.0 486.0,154.0 481.6,150.0 477.3,146.0 472.9,142.0 468.7,138.0 464.5,134.0 460.3,130.0 456.2,126.0 452.1,122.0 448.1,118.0 444.1,114.0 440.2,110.0 436.3,106.0 432.5,102.0 428.7,98.0 424.9,94.0 421.2,90.0 417.6,86.0 414.0,82.0 410.4,78.0 406.9,74.0 403.4,70.0 400.0,66.0 396.6,62.0 393.2,58.0 389.9,54.0 386.7,50.0 383.4,46.0 380.3,42.0 377.1,38.0 374.0,34.0 371.0,30.0 368.0,26.0 365.0,22.0 362.1,18.0"/>
<polyline stroke="#cccccc" points="1074.0,470.0 1064.3,466.0 1054.7,462.0 1045.2,458.0 1035.7,454.0 1026.3,450.0 1017.1,446.0 1007.8,442.0 998.7,438.0 989.7,434.0 980.7,430.0 971.8,426.0 962.9,422.0 954.2,418.0 945.5,414.0 936.9,410.0 928.3,406.0 919.9,402.0 911.5,398.0 903.2,394.0 894.9,390.0 886.8,386.0 878.7,382.0 870.6,378.0 862.7,374.0 854.8,370.0 847.0,366.0 839.2,362.0 831.5,358.0 823.9,354.0 816.4,350.0 808.9,346.0 801.5,342.0 794.1,338.0 786.8,334.0 779.6,330.0 772.5,326.0 765.4,322.0 758.4,318.0 751.4,314.0 744.5,310.0 737.7,306.0 730.9,302.0 724.2,298.0 717.6,294.0 711.0,290.0 704.5,286.0 698.0,282.0 691.6,278.0 685.3,274.0 679.0,270.0 672.8,266.0 666.7,262.0 660.6,258.0 654.5,254.0 648.6,250.0 642.7,246.0 636.8,242.0 631.0,238.0 625.2,234.0 619.6,230.0 613.9,226.0 608.4,222.0 602.8,218.0 597.4,214.0 592.0,210.0 586.6,206.0 581.3,202.0 576.1,198.0 570.9,194.0 565.7,190.0 560.7,186.0 555.6,182.0 550.7,178.0 545.7,174.0 540.9,170.0 536.0,166.0 531.3,162.0 526.5,158.0 521.9,154.0 517.3,150.0 512.7,146.0 508.2,142.0 503.7,138.0 499.3,134.0 494.9,130.0 490.6,126.0 486.3,122.0 482.1,118.0 477.9,114.0 473.8,110.0 469.7,106.0 465.7,102.0 461.7,98.0 457.8,94.0 453.9,90.0 450.0,86.0 446.2,82.0 442.5,78.0 438.8,74.0 435.1,70.0 431.5,66.0 427.9,62.0 424.4,58.0 420.9,54.0 417.5,50.0 414.1,46.0 410.7,42.0 407.4,38.0 404.1,34.0 400.9,30.0 397.7,26.0 394.6,22.0 391.5,18.0"/>
</g>
<defs><clipPath id="cp3"><rect x="379" y="15.5" width="104" height="75"/></clipPath></defs>
<g clip-path="url(#cp3)" fill="none" stroke-width="0.75">
<polyline stroke="#cccccc" points="1130.9,470.0 1120.9,466.0 1110.9,462.0 1101.1,458.0 1091.3,454.0 1081.6,450.0 1072.0,446.0 1062.5,442.0 1053.0,438.0 1043.6,434.0 1034.3,430.0 1025.1,426.0 1016.0,422.0 1006.9,418.0 997.9,414.0 989.0,410.0 980.2,406.0 971.4,402.0 962.7,398.0 954.1,394.0 945.6,390.0 937.1,386.0 928.7,382.0 920.4,378.0 912.1,374.0 903.9,370.0 895.8,366.0 887.8,362.0 879.8,358.0 871.9,354.0 864.1,350.0 856.3,346.0 848.6,342.0 841.0,338.0 833.5,334.0 826.0,330.0 818.6,326.0 811.2,322.0 803.9,318.0 796.7,314.0 789.5,310.0 782.5,306.0 775.4,302.0 768.5,298.0 761.6,294.0 754.7,290.0 748.0,286.0 741.3,282.0 734.6,278.0 728.0,274.0 721.5,270.0 715.1,266.0 708.7,262.0 702.3,258.0 696.0,254.0 689.8,250.0 683.7,246.0 677.6,242.0 671.5,238.0 665.5,234.0 659.6,230.0 653.8,226.0 648.0,222.0 642.2,218.0 636.5,214.0 630.9,210.0 625.3,206.0 619.8,202.0 614.3,198.0 608.9,194.0 603.5,190.0 598.2,186.0 593.0,182.0 587.8,178.0 582.6,174.0 577.6,170.0 572.5,166.0 567.5,162.0 562.6,158.0 557.7,154.0 552.9,150.0 548.1,146.0 543.4,142.0 538.7,138.0 534.1,134.0 529.5,130.0 525.0,126.0 520.5,122.0 516.1,118.0 511.8,114.0 507.4,110.0 503.2,106.0 498.9,102.0 494.7,98.0 490.6,94.0 486.5,90.0 482.5,86.0 478.5,82.0 474.6,78.0 470.7,74.0 466.8,70.0 463.0,66.0 459.3,62.0 455.5,58.0 451.9,54.0 448.3,50.0 444.7,46.0 441.1,42.0 437.7,38.0 434.2,34.0 430.8,30.0 427.4,26.0 424.1,22.0 420.8,18.0"/>
<polyline stroke="#cccccc" points="1187.8,470.0 1177.4,466.0 1167.2,462.0 1157.0,458.0 1146.9,454.0 1136.9,450.0 1126.9,446.0 1117.1,442.0 1107.3,438.0 1097.6,434.0 1088.0,430.0 1078.5,426.0 1069.0,422.0 1059.6,418.0 1050.3,414.0 1041.1,410.0 1032.0,406.0 1022.9,402.0 1013.9,398.0 1005.0,394.0 996.2,390.0 987.4,386.0 978.7,382.0 970.1,378.0 961.6,374.0 953.1,370.0 944.7,366.0 936.4,362.0 928.1,358.0 919.9,354.0 911.8,350.0 903.8,346.0 895.8,342.0 887.9,338.0 880.1,334.0 872.4,330.0 864.7,326.0 857.0,322.0 849.5,318.0 842.0,314.0 834.6,310.0 827.2,306.0 819.9,302.0 812.7,298.0 805.6,294.0 798.5,290.0 791.5,286.0 784.5,282.0 777.6,278.0 770.8,274.0 764.0,270.0 757.3,266.0 750.6,262.0 744.1,258.0 737.5,254.0 731.1,250.0 724.7,246.0 718.3,242.0 712.1,238.0 705.8,234.0 699.7,230.0 693.6,226.0 687.5,222.0 681.6,218.0 675.6,214.0 669.8,210.0 664.0,206.0 658.2,202.0 652.5,198.0 646.9,194.0 641.3,190.0 635.8,186.0 630.3,182.0 624.9,178.0 619.6,174.0 614.3,170.0 609.0,166.0 603.8,162.0 598.7,158.0 593.6,154.0 588.5,150.0 583.6,146.0 578.6,142.0 573.8,138.0 568.9,134.0 564.2,130.0 559.4,126.0 554.8,122.0 550.1,118.0 545.6,114.0 541.0,110.0 536.6,106.0 532.2,102.0 527.8,98.0 523.5,94.0 519.2,90.0 515.0,86.0 510.8,82.0 506.6,78.0 502.6,74.0 498.5,70.0 494.5,66.0 490.6,62.0 486.7,58.0 482.9,54.0 479.0,50.0 475.3,46.0 471.6,42.0 467.9,38.0 464.3,34.0 460.7,30.0 457.2,26.0 453.7,22.0 450.2,18.0"/>
<polyline stroke="#cccccc" points="1244.7,470.0 1234.0,466.0 1223.4,462.0 1212.9,458.0 1202.5,454.0 1192.1,450.0 1181.9,446.0 1171.7,442.0 1161.6,438.0 1151.6,434.0 1141.7,430.0 1131.8,426.0 1122.1,422.0 1112.4,418.0 1102.8,414.0 1093.2,410.0 1083.8,406.0 1074.4,402.0 1065.1,398.0 1055.9,394.0 1046.8,390.0 1037.7,386.0 1028.7,382.0 1019.8,378.0 1011.0,374.0 1002.3,370.0 993.6,366.0 985.0,362.0 976.4,358.0 968.0,354.0 959.6,350.0 951.3,346.0 943.0,342.0 934.9,338.0 926.8,334.0 918.7,330.0 910.8,326.0 902.9,322.0 895.0,318.0 887.3,314.0 879.6,310.0 872.0,306.0 864.4,302.0 857.0,298.0 849.6,294.0 842.2,290.0 834.9,286.0 827.7,282.0 820.6,278.0 813.5,274.0 806.5,270.0 799.5,266.0 792.6,262.0 785.8,258.0 779.0,254.0 772.3,250.0 765.7,246.0 759.1,242.0 752.6,238.0 746.1,234.0 739.7,230.0 733.4,226.0 727.1,222.0 720.9,218.0 714.8,214.0 708.7,210.0 702.7,206.0 696.7,202.0 690.8,198.0 684.9,194.0 679.1,190.0 673.4,186.0 667.7,182.0 662.0,178.0 656.5,174.0 651.0,170.0 645.5,166.0 640.1,162.0 634.7,158.0 629.4,154.0 624.2,150.0 619.0,146.0 613.9,142.0 608.8,138.0 603.7,134.0 598.8,130.0 593.8,126.0 589.0,122.0 584.2,118.0 579.4,114.0 574.7,110.0 570.0,106.0 565.4,102.0 560.8,98.0 556.3,94.0 551.8,90.0 547.4,86.0 543.0,82.0 538.7,78.0 534.5,74.0 530.2,70.0 526.1,66.0 521.9,62.0 517.9,58.0 513.8,54.0 509.8,50.0 505.9,46.0 502.0,42.0 498.2,38.0 494.4,34.0 490.6,30.0 486.9,26.0 483.2,22.0 479.6,18.0"/>
</g>
<defs><clipPath id="cp2"><rect x="495.5" y="424" width="50.5" height="41"/></clipPath></defs>
<g clip-path="url(#cp2)" fill="none" stroke-width="0.75"><polyline stroke="#cccccc" points="561.9,470.0 555.2,466.0 548.6,462.0 542.0,458.0 535.5,454.0 529.0,450.0 522.6,446.0 516.3,442.0 510.0,438.0 503.8,434.0 497.7,430.0 491.6,426.0 485.6,422.0 479.6,418.0 473.7,414.0 467.8,410.0 462.0,406.0 456.3,402.0 450.6,398.0 445.0,394.0 439.4,390.0 433.9,386.0 428.4,382.0 423.0,378.0 417.6,374.0 412.3,370.0 407.1,366.0 401.9,362.0 396.8,358.0 391.7,354.0 386.7,350.0 381.7,346.0 376.8,342.0 371.9,338.0 367.1,334.0 362.3,330.0 357.6,326.0 352.9,322.0 348.3,318.0 343.7,314.0 339.2,310.0 334.8,306.0 330.3,302.0 326.0,298.0 321.7,294.0 317.4,290.0 313.2,286.0 309.0,282.0 304.9,278.0 300.8,274.0 296.8,270.0 292.8,266.0 288.8,262.0 285.0,258.0 281.1,254.0 277.3,250.0 273.6,246.0 269.9,242.0 266.2,238.0 262.6,234.0 259.0,230.0 255.5,226.0 252.0,222.0 248.5,218.0 245.1,214.0 241.8,210.0 238.5,206.0 235.2,202.0 232.0,198.0 228.8,194.0 225.7,190.0 222.6,186.0 219.5,182.0 216.5,178.0 213.5,174.0 210.6,170.0 207.7,166.0 204.8,162.0 202.0,158.0 199.2,154.0 196.5,150.0 193.8,146.0 191.1,142.0 188.5,138.0 185.9,134.0 183.4,130.0 180.9,126.0 178.4,122.0 176.0,118.0 173.6,114.0 171.3,110.0 168.9,106.0 166.7,102.0 164.4,98.0 162.2,94.0 160.0,90.0 157.9,86.0 155.8,82.0 153.7,78.0 151.7,74.0 149.7,70.0 147.8,66.0 145.9,62.0 144.0,58.0 142.1,54.0 140.3,50.0 138.5,46.0 136.8,42.0 135.1,38.0 133.4,34.0 131.7,30.0 130.1,26.0 128.5,22.0 127.0,18.0"/></g>
<g fill="none" stroke="#8af755" stroke-width="0.9">
<polyline points="70.3,470.0 77.4,460.0 84.5,450.0 91.7,440.0 98.8,430.0 106.0,420.0 113.2,410.0 120.4,400.0 127.6,390.0 134.8,380.0 142.0,370.0 149.3,360.0 156.6,350.0 163.8,340.0 171.1,330.0 178.4,320.0 185.7,310.0 193.1,300.0"/>
<polyline points="111.4,470.0 118.3,460.0 125.2,450.0 132.1,440.0 139.1,430.0 146.0,420.0 153.0,410.0 160.0,400.0 167.0,390.0 174.1,380.0 181.1,370.0 188.2,360.0 195.2,350.0 202.3,340.0 209.4,330.0 216.6,320.0 223.7,310.0 230.8,300.0"/>
<polyline points="136.7,470.0 143.5,460.0 150.3,450.0 157.1,440.0 163.9,430.0 170.8,420.0 177.6,410.0 184.5,400.0 191.4,390.0 198.3,380.0 205.2,370.0 212.1,360.0 219.1,350.0 226.1,340.0 233.1,330.0 240.1,320.0 247.1,310.0 254.1,300.0"/>
<polyline points="170.2,470.0 176.8,460.0 183.4,450.0 190.1,440.0 196.7,430.0 203.4,420.0 210.1,410.0 216.8,400.0 223.5,390.0 230.2,380.0 237.0,370.0 243.8,360.0 250.6,350.0 257.4,340.0 264.2,330.0 271.0,320.0 277.9,310.0 284.8,300.0"/>
<polyline points="193.3,470.0 199.7,460.0 206.2,450.0 212.7,440.0 219.3,430.0 225.8,420.0 232.4,410.0 239.0,400.0 245.6,390.0 252.2,380.0 258.8,370.0 265.5,360.0 272.2,350.0 278.9,340.0 285.6,330.0 292.3,320.0 299.0,310.0 305.8,300.0"/>
<polyline points="218.6,470.0 224.9,460.0 231.3,450.0 237.7,440.0 244.1,430.0 250.5,420.0 256.9,410.0 263.3,400.0 269.8,390.0 276.3,380.0 282.8,370.0 289.3,360.0 295.9,350.0 302.5,340.0 309.0,330.0 315.7,320.0 322.3,310.0 328.9,300.0"/>
<polyline points="248.6,470.0 254.8,460.0 260.9,450.0 267.1,440.0 273.4,430.0 279.6,420.0 285.9,410.0 292.2,400.0 298.5,390.0 304.8,380.0 311.2,370.0 317.5,360.0 323.9,350.0 330.4,340.0 336.8,330.0 343.2,320.0 349.7,310.0 356.2,300.0"/>
<polyline points="270.7,470.0 276.7,460.0 282.8,450.0 288.8,440.0 294.9,430.0 301.1,420.0 307.2,410.0 313.4,400.0 319.6,390.0 325.8,380.0 332.0,370.0 338.3,360.0 344.6,350.0 350.9,340.0 357.2,330.0 363.5,320.0 369.9,310.0 376.3,300.0"/>
<polyline points="303.0,470.0 308.8,460.0 314.7,450.0 320.6,440.0 326.5,430.0 332.4,420.0 338.4,410.0 344.4,400.0 350.4,390.0 356.4,380.0 362.5,370.0 368.6,360.0 374.7,350.0 380.8,340.0 387.0,330.0 393.1,320.0 399.3,310.0 405.5,300.0"/>
<polyline points="326.7,470.0 332.4,460.0 338.1,450.0 343.9,440.0 349.7,430.0 355.5,420.0 361.3,410.0 367.2,400.0 373.0,390.0 379.0,380.0 384.9,370.0 390.8,360.0 396.8,350.0 402.8,340.0 408.8,330.0 414.9,320.0 421.0,310.0 427.0,300.0"/>
<polyline points="345.6,470.0 351.2,460.0 356.8,450.0 362.5,440.0 368.2,430.0 373.8,420.0 379.6,410.0 385.3,400.0 391.1,390.0 396.9,380.0 402.7,370.0 408.6,360.0 414.4,350.0 420.3,340.0 426.2,330.0 432.2,320.0 438.2,310.0 444.2,300.0"/>
<polyline points="361.4,470.0 366.9,460.0 372.4,450.0 378.0,440.0 383.6,430.0 389.2,420.0 394.8,410.0 400.4,400.0 406.1,390.0 411.8,380.0 417.6,370.0 423.3,360.0 429.1,350.0 434.9,340.0 440.7,330.0 446.6,320.0 452.5,310.0 458.4,300.0"/>
<polyline points="375.0,470.0 380.4,460.0 385.8,450.0 391.3,440.0 396.8,430.0 402.3,420.0 407.9,410.0 413.4,400.0 419.0,390.0 424.7,380.0 430.3,370.0 436.0,360.0 441.7,350.0 447.4,340.0 453.2,330.0 459.0,320.0 464.8,310.0 470.6,300.0"/>
<polyline points="392.4,470.0 397.7,460.0 403.0,450.0 408.4,440.0 413.8,430.0 419.2,420.0 424.6,410.0 430.1,400.0 435.6,390.0 441.1,380.0 446.7,370.0 452.2,360.0 457.9,350.0 463.5,340.0 469.2,330.0 474.8,320.0 480.6,310.0 486.3,300.0"/>
<polyline points="407.2,470.0 412.4,460.0 417.6,450.0 422.9,440.0 428.2,430.0 433.5,420.0 438.9,410.0 444.2,400.0 449.7,390.0 455.1,380.0 460.6,370.0 466.1,360.0 471.6,350.0 477.1,340.0 482.7,330.0 488.3,320.0 494.0,310.0 499.6,300.0"/>
<polyline points="427.9,470.0 432.9,460.0 438.0,450.0 443.2,440.0 448.3,430.0 453.5,420.0 458.8,410.0 464.0,400.0 469.3,390.0 474.6,380.0 480.0,370.0 485.3,360.0 490.8,350.0 496.2,340.0 501.7,330.0 507.1,320.0 512.7,310.0 518.2,300.0"/>
</g>
<line x1="46" y1="150.5" x2="496" y2="150.5" stroke="#a6a6a6"/>
<line x1="46" y1="229.5" x2="496" y2="229.5" stroke="#a6a6a6"/>
<line x1="46" y1="285.5" x2="496" y2="285.5" stroke="#a6a6a6"/>
<line x1="46" y1="329.5" x2="496" y2="329.5" stroke="#a6a6a6"/>
<line x1="46" y1="365.5" x2="496" y2="365.5" stroke="#a6a6a6"/>
<line x1="46" y1="395.5" x2="496" y2="395.5" stroke="#a6a6a6"/>
<line x1="46" y1="433.5" x2="546" y2="433.5" stroke="#a6a6a6"/>
<line x1="46" y1="449.5" x2="546" y2="449.5" stroke="#a6a6a6"/>
<line x1="46" y1="464.5" x2="546" y2="464.5" stroke="#a6a6a6"/>
<polyline fill="none" stroke="#008000" stroke-width="2.2" stroke-linejoin="round" stroke-linecap="round" points="232.0,14.4 227.0,22.0 222.0,30.0 215.0,37.0 210.0,42.0 202.0,49.0 196.0,53.0 193.0,58.0 187.0,61.0 186.0,68.0 181.0,74.0 175.0,81.0 169.0,88.0 168.0,91.0 162.0,92.0 160.0,97.0 156.0,101.0 160.0,105.0 163.0,106.0 180.0,113.0 186.0,120.0 184.0,129.0 179.0,139.0 168.0,144.0 166.0,150.0 160.0,155.0 158.0,161.0 151.0,168.0 157.0,175.0 176.0,181.0 155.0,188.0 157.0,195.0 154.0,200.0 159.0,205.0 173.0,206.0 176.0,213.0 170.0,218.0 155.0,220.4 176.0,219.5 183.0,223.0 183.0,228.0 173.0,233.6 180.0,236.0 190.0,239.0 207.0,242.0 199.0,245.0 198.0,250.0 190.0,253.0 189.0,257.0 173.0,258.0 187.0,259.3 175.0,260.5 186.0,262.0 177.0,262.5 186.0,264.0 188.0,268.0 185.0,274.0 186.0,282.0 193.0,285.0 194.0,294.0 198.0,299.0 190.0,305.0 179.0,307.0 182.0,310.0 198.0,312.0 201.0,317.0 199.0,323.0 220.0,325.0 224.0,329.0 227.0,335.0 225.0,344.0 220.0,353.0 219.0,361.0 236.0,363.0 250.0,365.0"/>
<polyline fill="none" stroke="#008000" stroke-width="3.0" stroke-linejoin="round" stroke-linecap="round" points="250.0,365.0 292.0,366.5 293.3,371.7 278.3,376.7 291.7,378.3 295.0,382.5 268.3,385.0 285.0,386.7 255.8,390.0 280.0,393.3 288.3,394.2 246.7,396.7 298.3,400.0 296.7,403.3 256.7,405.8 270.0,407.5 233.3,412.5 255.0,414.2 232.3,415.0 213.7,416.0 188.3,417.7 181.0,418.7 192.3,421.0 196.3,422.3 201.7,425.7 188.3,426.3 181.0,427.0 137.0,428.5 181.0,429.7 188.3,430.3 193.7,432.3 207.7,434.3 195.0,437.0 181.0,437.7 75.0,442.3 67.0,442.8 75.0,443.6 67.0,444.4 75.0,445.2 67.0,446.0 75.0,446.6 181.0,451.0 210.3,451.4 220.3,452.0 220.3,454.5 215.7,455.0 215.7,456.3 210.3,456.7 219.0,457.7 233.7,458.3 240.3,459.3 238.5,464.5 240.3,459.3 253.0,459.5"/>
<polyline fill="none" stroke="#1c64ff" stroke-width="1.2" stroke-linejoin="round" points="252.0,465.0 250.0,461.0 263.0,458.0 268.0,455.0 267.0,452.0 260.0,447.0 263.0,443.0 270.0,438.0 275.0,433.0 275.0,429.0 281.0,424.0 281.7,420.0 283.3,417.5 291.7,415.0 289.2,411.7 295.0,409.0 295.0,406.7 303.3,404.2 302.5,400.8 293.3,398.3 305.0,395.8 297.5,390.0 300.8,385.8 308.3,383.0 308.3,380.8 303.3,375.8 307.0,372.0 306.7,368.3 298.5,363.0 297.5,359.2 291.7,348.3 282.5,334.2 280.8,320.8 272.5,310.8 270.8,305.0 267.0,300.0 265.8,295.0 261.7,285.0 253.3,273.3 247.5,266.7 245.0,255.0 238.3,243.3 237.3,236.0 233.3,226.0 230.5,218.0"/>
<polyline fill="none" stroke="#a000a0" stroke-width="1.2" points="70.0,16.0 89.0,63.0 108.0,110.0 115.0,125.0 130.0,150.0 150.0,182.5 173.0,215.0 197.5,249.0 218.0,274.0 239.0,300.0 261.0,330.0 282.5,359.0 296.0,381.0 308.0,400.0"/>
<polyline fill="none" stroke="#c00000" stroke-width="1.9" stroke-linejoin="round" points="263.0,465.2 254.5,460.0 267.5,459.0 287.5,457.0 290.5,453.0 298.5,450.0 300.5,445.0 305.5,441.0 305.1,435.0 310.5,428.0 317.5,421.0 313.2,411.7 309.8,403.3 311.5,397.5 318.2,393.3 319.8,385.0 318.2,376.7 316.5,368.3 321.3,360.0 312.2,351.7 300.5,340.8 293.8,333.3 293.0,326.7 294.7,323.3 292.2,318.3 282.2,308.3 275.0,300.0 273.3,295.0 266.7,282.5 253.3,269.2 249.2,260.8 246.7,253.3 240.0,242.5 239.2,236.7 235.0,226.0 231.0,217.0 225.0,209.0 222.0,200.0 218.0,190.0 214.0,182.0 215.0,177.0 216.0,170.0 218.0,168.0 217.4,165.0 218.6,159.6 223.4,159.0 224.0,156.0 226.0,150.0 226.4,144.0 228.0,141.6 236.0,139.6 241.4,137.0 242.4,126.0 242.6,118.0 245.0,115.0 251.0,111.0 258.0,108.0 265.0,105.0 271.0,104.0 275.0,101.0 285.0,99.0 289.4,92.0 301.0,91.0 302.0,85.0 316.0,78.0 314.0,73.0 312.0,64.0 329.0,58.0 331.0,53.0 339.0,52.0 350.0,42.0 356.0,40.0 360.0,32.0 357.0,24.0 361.0,19.0 372.0,14.6"/>
<polyline fill="none" stroke="#ff0000" stroke-width="2.15" stroke-linejoin="round" stroke-linecap="round" points="261.5,465.2 253.0,460.0 266.0,459.0 286.0,457.0 289.0,453.0 297.0,450.0 299.0,445.0 304.0,441.0 303.6,435.0 309.0,428.0 316.0,421.0 311.7,411.7 308.3,403.3 310.0,397.5 316.7,393.3 318.3,385.0 316.7,376.7 315.0,368.3 320.8,360.0 311.7,351.7 300.0,340.8 293.3,333.3 292.5,326.7 294.2,323.3 291.7,318.3 281.7,308.3 275.0,300.0 273.3,295.0 266.7,282.5 253.3,269.2 249.2,260.8 246.7,253.3 240.0,242.5 239.2,236.7 235.0,226.0 231.0,217.0 225.0,209.0 222.0,200.0 218.0,190.0 214.0,182.0 215.0,177.0 216.0,170.0 218.0,168.0 217.4,165.0 218.6,159.6 223.4,159.0 224.0,156.0 226.0,150.0 226.4,144.0 228.0,141.6 236.0,139.6 241.4,137.0 242.4,126.0 242.6,118.0 245.0,115.0 251.0,111.0 258.0,108.0 265.0,105.0 271.0,104.0 275.0,101.0 285.0,99.0 289.4,92.0 301.0,91.0 302.0,85.0 316.0,78.0 314.0,73.0 312.0,64.0 329.0,58.0 331.0,53.0 339.0,52.0 350.0,42.0 356.0,40.0 360.0,32.0 357.0,24.0 361.0,19.0 372.0,14.6"/>
<rect x="67" y="16" width="74" height="94" fill="#fff" fill-opacity="0.72"/>
<rect x="379" y="16" width="104" height="74" fill="#fff" fill-opacity="0.72"/>
<rect x="75" y="405" width="106" height="48" fill="#fff" fill-opacity="0.68"/>
<rect x="481" y="196" width="32" height="10" fill="#fff" fill-opacity="0.6"/>
<rect x="464" y="414" width="44" height="11" fill="#fff" fill-opacity="0.7"/>
<path d="M494.5,469 L498,465 L502,469" fill="none" stroke="#cccccc" stroke-width="0.75"/>
<polyline fill="none" stroke="#a000a0" stroke-width="1.1" stroke-opacity="0.3" points="70.0,16.0 89.0,63.0 108.0,110.0"/>
<line x1="45" y1="15.5" x2="591" y2="15.5" stroke="#000" stroke-width="1"/>
<line x1="45.5" y1="15" x2="45.5" y2="470" stroke="#000" stroke-width="1"/>
<text x="50.5" y="11.7" font-size="12" fill="#000" stroke="#000" stroke-width="0.15" text-anchor="start" font-weight="bold" textLength="53.5" lengthAdjust="spacingAndGlyphs">Prostejov</text>
<text x="117.0" y="11.7" font-size="12" fill="#000" stroke="#000" stroke-width="0.15" text-anchor="start" font-weight="bold" textLength="106.3" lengthAdjust="spacingAndGlyphs">26.12.2025 12 UTC</text>
<text x="530.5" y="10.5" font-size="10.6" fill="#ff0000" stroke="#ff0000" stroke-width="0.15" text-anchor="start" textLength="65" lengthAdjust="spacingAndGlyphs">CHMI © 2025</text>
<text x="30.5" y="19.5" font-size="10.6" fill="#000" stroke="#000" stroke-width="0.15" text-anchor="middle">100</text>
<text x="30.5" y="154.5" font-size="10.6" fill="#000" stroke="#000" stroke-width="0.15" text-anchor="middle">200</text>
<text x="30.5" y="233.5" font-size="10.6" fill="#000" stroke="#000" stroke-width="0.15" text-anchor="middle">300</text>
<text x="30.5" y="289.5" font-size="10.6" fill="#000" stroke="#000" stroke-width="0.15" text-anchor="middle">400</text>
<text x="30.5" y="333.5" font-size="10.6" fill="#000" stroke="#000" stroke-width="0.15" text-anchor="middle">500</text>
<text x="30.5" y="369.5" font-size="10.6" fill="#000" stroke="#000" stroke-width="0.15" text-anchor="middle">600</text>
<text x="30.5" y="399.5" font-size="10.6" fill="#000" stroke="#000" stroke-width="0.15" text-anchor="middle">700</text>
<text x="30.5" y="437.5" font-size="10.6" fill="#000" stroke="#000" stroke-width="0.15" text-anchor="middle">850</text>
<text x="30.5" y="453.5" font-size="10.6" fill="#000" stroke="#000" stroke-width="0.15" text-anchor="middle">925</text>
<text x="30.5" y="468.5" font-size="10.6" fill="#000" stroke="#000" stroke-width="0.15" text-anchor="middle">1000</text>
<line x1="47" y1="18.5" x2="53" y2="18.5" stroke="#0000ff" stroke-width="1.2"/>
<text x="60.0" y="23.2" font-size="10.6" fill="#0000ff" stroke="#0000ff" stroke-width="0.15" text-anchor="middle">16</text>
<line x1="47" y1="50.5" x2="53" y2="50.5" stroke="#0000ff" stroke-width="1.2"/>
<text x="60.0" y="55.6" font-size="10.6" fill="#0000ff" stroke="#0000ff" stroke-width="0.15" text-anchor="middle">15</text>
<line x1="47" y1="81.5" x2="53" y2="81.5" stroke="#0000ff" stroke-width="1.2"/>
<text x="60.0" y="86.2" font-size="10.6" fill="#0000ff" stroke="#0000ff" stroke-width="0.15" text-anchor="middle">14</text>
<line x1="47" y1="113.5" x2="53" y2="113.5" stroke="#0000ff" stroke-width="1.2"/>
<text x="60.0" y="118.2" font-size="10.6" fill="#0000ff" stroke="#0000ff" stroke-width="0.15" text-anchor="middle">13</text>
<line x1="47" y1="145.5" x2="53" y2="145.5" stroke="#0000ff" stroke-width="1.2"/>
<text x="60.0" y="149.9" font-size="10.6" fill="#0000ff" stroke="#0000ff" stroke-width="0.15" text-anchor="middle">12</text>
<line x1="47" y1="176.5" x2="53" y2="176.5" stroke="#0000ff" stroke-width="1.2"/>
<text x="60.0" y="181.2" font-size="10.6" fill="#0000ff" stroke="#0000ff" stroke-width="0.15" text-anchor="middle">11</text>
<line x1="47" y1="207.5" x2="53" y2="207.5" stroke="#0000ff" stroke-width="1.2"/>
<text x="60.0" y="211.9" font-size="10.6" fill="#0000ff" stroke="#0000ff" stroke-width="0.15" text-anchor="middle">10</text>
<line x1="47" y1="237.5" x2="53" y2="237.5" stroke="#0000ff" stroke-width="1.2"/>
<text x="60.0" y="242.4" font-size="10.6" fill="#0000ff" stroke="#0000ff" stroke-width="0.15" text-anchor="middle">9</text>
<line x1="47" y1="266.5" x2="53" y2="266.5" stroke="#0000ff" stroke-width="1.2"/>
<text x="60.0" y="271.2" font-size="10.6" fill="#0000ff" stroke="#0000ff" stroke-width="0.15" text-anchor="middle">8</text>
<line x1="47" y1="294.5" x2="53" y2="294.5" stroke="#0000ff" stroke-width="1.2"/>
<text x="60.0" y="299.4" font-size="10.6" fill="#0000ff" stroke="#0000ff" stroke-width="0.15" text-anchor="middle">7</text>
<line x1="47" y1="321.5" x2="53" y2="321.5" stroke="#0000ff" stroke-width="1.2"/>
<text x="60.0" y="326.4" font-size="10.6" fill="#0000ff" stroke="#0000ff" stroke-width="0.15" text-anchor="middle">6</text>
<line x1="47" y1="347.5" x2="53" y2="347.5" stroke="#0000ff" stroke-width="1.2"/>
<text x="60.0" y="351.9" font-size="10.6" fill="#0000ff" stroke="#0000ff" stroke-width="0.15" text-anchor="middle">5</text>
<line x1="47" y1="372.5" x2="53" y2="372.5" stroke="#0000ff" stroke-width="1.2"/>
<text x="60.0" y="376.9" font-size="10.6" fill="#0000ff" stroke="#0000ff" stroke-width="0.15" text-anchor="middle">4</text>
<line x1="47" y1="397.5" x2="53" y2="397.5" stroke="#0000ff" stroke-width="1.2"/>
<text x="60.0" y="402.4" font-size="10.6" fill="#0000ff" stroke="#0000ff" stroke-width="0.15" text-anchor="middle">3</text>
<line x1="47" y1="422.5" x2="53" y2="422.5" stroke="#0000ff" stroke-width="1.2"/>
<text x="60.0" y="426.9" font-size="10.6" fill="#0000ff" stroke="#0000ff" stroke-width="0.15" text-anchor="middle">2</text>
<line x1="47" y1="446.5" x2="53" y2="446.5" stroke="#0000ff" stroke-width="1.2"/>
<text x="60.0" y="451.2" font-size="10.6" fill="#0000ff" stroke="#0000ff" stroke-width="0.15" text-anchor="middle">1</text>
<text x="70.0" y="30.4" font-size="10.6" fill="#000" stroke="#000" stroke-width="0.15" text-anchor="start" textLength="40" lengthAdjust="spacingAndGlyphs">SKEW-T</text>
<text x="70.0" y="45.6" font-size="10.6" fill="#ff0000" stroke="#ff0000" stroke-width="0.15" text-anchor="start" textLength="55" lengthAdjust="spacingAndGlyphs">temperature</text>
<text x="70.0" y="55.6" font-size="10.6" fill="#a01818" stroke="#a01818" stroke-width="0.15" text-anchor="start" textLength="42" lengthAdjust="spacingAndGlyphs">virt.temp.</text>
<text x="70.0" y="65.6" font-size="10.6" fill="#189818" stroke="#189818" stroke-width="0.15" text-anchor="start" textLength="44.8" lengthAdjust="spacingAndGlyphs">dew point</text>
<text x="70.0" y="75.6" font-size="10.6" fill="#2868f0" stroke="#2868f0" stroke-width="0.15" text-anchor="start" textLength="67.6" lengthAdjust="spacingAndGlyphs">wet bulb temp.</text>
<text x="70.0" y="85.6" font-size="10.6" fill="#b018b0" stroke="#b018b0" stroke-width="0.15" text-anchor="start" textLength="69.5" lengthAdjust="spacingAndGlyphs">udpraft v.temp.</text>
<text x="382.4" y="30.6" font-size="10.6" fill="#000" stroke="#000" stroke-width="0.15" text-anchor="start">Surface:</text>
<text x="386.4" y="42.6" font-size="10.6" fill="#000" stroke="#000" stroke-width="0.15" text-anchor="start" textLength="84.6" lengthAdjust="spacingAndGlyphs">press: 1004.9 hPa</text>
<text x="386.4" y="52.6" font-size="10.6" fill="#ff0000" stroke="#ff0000" stroke-width="0.15" text-anchor="start" textLength="60.6" lengthAdjust="spacingAndGlyphs">temp: -1.3 °C</text>
<text x="386.4" y="62.5" font-size="10.6" fill="#20a020" stroke="#20a020" stroke-width="0.15" text-anchor="start" textLength="59.2" lengthAdjust="spacingAndGlyphs">dwpt: -5.0 °C</text>
<text x="386.4" y="78.1" font-size="10.6" fill="#000" stroke="#000" stroke-width="0.15" text-anchor="start" textLength="68.6" lengthAdjust="spacingAndGlyphs">t-conv: 34.4 °C</text>
<text x="386.4" y="88.1" font-size="10.6" fill="#000" stroke="#000" stroke-width="0.15" text-anchor="start" textLength="67.2" lengthAdjust="spacingAndGlyphs">t-mxfc: 15.8 °C</text>
<text x="250.0" y="31.0" font-size="10.6" fill="#a8a8a8" stroke="#a8a8a8" stroke-width="0.15" text-anchor="start">-80 °C</text>
<text x="273.0" y="65.6" font-size="10.6" fill="#a8a8a8" stroke="#a8a8a8" stroke-width="0.15" text-anchor="start">-70</text>
<text x="296.6" y="98.6" font-size="10.6" fill="#a8a8a8" stroke="#a8a8a8" stroke-width="0.15" text-anchor="start">-60</text>
<text x="321.0" y="131.0" font-size="10.6" fill="#a8a8a8" stroke="#a8a8a8" stroke-width="0.15" text-anchor="start">-50</text>
<text x="347.5" y="160.5" font-size="10.6" fill="#a8a8a8" stroke="#a8a8a8" stroke-width="0.15" text-anchor="start">-40</text>
<text x="374.5" y="189.5" font-size="10.6" fill="#a8a8a8" stroke="#a8a8a8" stroke-width="0.15" text-anchor="start">-30</text>
<text x="403.5" y="216.5" font-size="10.6" fill="#a8a8a8" stroke="#a8a8a8" stroke-width="0.15" text-anchor="start">-20</text>
<text x="433.0" y="243.5" font-size="10.6" fill="#a8a8a8" stroke="#a8a8a8" stroke-width="0.15" text-anchor="start">-10 °C</text>
<line x1="228" y1="118.5" x2="249" y2="118.5" stroke="#000" stroke-width="1.2"/>
<text x="250.6" y="123.0" font-size="10.6" fill="#000" stroke="#000" stroke-width="0.15" text-anchor="start" textLength="26.3" lengthAdjust="spacingAndGlyphs">Tropo</text>
<text x="482.4" y="204.6" font-size="10.6" fill="#ff0000" stroke="#ff0000" stroke-width="0.15" text-anchor="start" textLength="30" lengthAdjust="spacingAndGlyphs">MXWS</text>
<line x1="515.5" y1="200.5" x2="521" y2="200.5" stroke="#ff0000" stroke-width="1.2"/>
<text x="78.4" y="416.6" font-size="10.6" fill="#000" stroke="#000" stroke-width="0.15" text-anchor="start">p [hPa]</text>
<text x="125.0" y="416.6" font-size="10.6" fill="#000" stroke="#000" stroke-width="0.15" text-anchor="start">T</text>
<text x="147.0" y="416.6" font-size="10.6" fill="#000" stroke="#000" stroke-width="0.15" text-anchor="start">Td [°C]</text>
<text x="102.5" y="431.6" font-size="10.6" fill="#000" stroke="#000" stroke-width="0.15" text-anchor="end">500</text>
<text x="137.0" y="431.6" font-size="10.6" fill="#000" stroke="#000" stroke-width="0.15" text-anchor="end">-19.9</text>
<text x="174.0" y="431.6" font-size="10.6" fill="#000" stroke="#000" stroke-width="0.15" text-anchor="end">-32.2</text>
<text x="102.5" y="441.6" font-size="10.6" fill="#000" stroke="#000" stroke-width="0.15" text-anchor="end">700</text>
<text x="137.0" y="441.6" font-size="10.6" fill="#000" stroke="#000" stroke-width="0.15" text-anchor="end">-4.1</text>
<text x="174.0" y="441.6" font-size="10.6" fill="#000" stroke="#000" stroke-width="0.15" text-anchor="end">-9.2</text>
<text x="102.5" y="451.6" font-size="10.6" fill="#000" stroke="#000" stroke-width="0.15" text-anchor="end">850</text>
<text x="137.0" y="451.6" font-size="10.6" fill="#000" stroke="#000" stroke-width="0.15" text-anchor="end">0.4</text>
<text x="174.0" y="451.6" font-size="10.6" fill="#000" stroke="#000" stroke-width="0.15" text-anchor="end">-17.7</text>
<text x="192.0" y="297.5" font-size="10.6" fill="#8ad838" stroke="#8ad838" stroke-width="0.15" text-anchor="middle">0.2</text>
<text x="230.4" y="297.5" font-size="10.6" fill="#8ad838" stroke="#8ad838" stroke-width="0.15" text-anchor="middle">0.4</text>
<text x="253.0" y="297.5" font-size="10.6" fill="#8ad838" stroke="#8ad838" stroke-width="0.15" text-anchor="middle">0.6</text>
<text x="284.5" y="297.5" font-size="10.6" fill="#8ad838" stroke="#8ad838" stroke-width="0.15" text-anchor="middle">1</text>
<text x="303.5" y="297.5" font-size="10.6" fill="#8ad838" stroke="#8ad838" stroke-width="0.15" text-anchor="middle">1.4</text>
<text x="327.8" y="297.5" font-size="10.6" fill="#8ad838" stroke="#8ad838" stroke-width="0.15" text-anchor="middle">2</text>
<text x="354.8" y="297.5" font-size="10.6" fill="#8ad838" stroke="#8ad838" stroke-width="0.15" text-anchor="middle">3</text>
<text x="374.4" y="297.5" font-size="10.6" fill="#8ad838" stroke="#8ad838" stroke-width="0.15" text-anchor="middle">4</text>
<text x="403.6" y="297.5" font-size="10.6" fill="#8ad838" stroke="#8ad838" stroke-width="0.15" text-anchor="middle">6</text>
<text x="425.6" y="297.5" font-size="10.6" fill="#8ad838" stroke="#8ad838" stroke-width="0.15" text-anchor="middle">8</text>
<text x="443.0" y="297.5" font-size="10.6" fill="#8ad838" stroke="#8ad838" stroke-width="0.15" text-anchor="middle">10</text>
<text x="457.2" y="297.5" font-size="10.6" fill="#8ad838" stroke="#8ad838" stroke-width="0.15" text-anchor="middle">12</text>
<text x="468.8" y="297.5" font-size="10.6" fill="#8ad838" stroke="#8ad838" stroke-width="0.15" text-anchor="middle">14</text>
<text x="485.6" y="297.5" font-size="10.6" fill="#8ad838" stroke="#8ad838" stroke-width="0.15" text-anchor="middle">17</text>
<text x="497.9" y="297.5" font-size="10.6" fill="#8ad838" stroke="#8ad838" stroke-width="0.15" text-anchor="middle">20</text>
<text x="516.9" y="297.5" font-size="10.6" fill="#8ad838" stroke="#8ad838" stroke-width="0.15" text-anchor="middle">25</text>
<text x="94.8" y="481.4" font-size="10.6" fill="#000" stroke="#000" stroke-width="0.15" text-anchor="middle">-30</text>
<text x="150.8" y="481.4" font-size="10.6" fill="#000" stroke="#000" stroke-width="0.15" text-anchor="middle">-20</text>
<text x="206.8" y="481.4" font-size="10.6" fill="#000" stroke="#000" stroke-width="0.15" text-anchor="middle">-10</text>
<text x="264.2" y="481.4" font-size="10.6" fill="#000" stroke="#000" stroke-width="0.15" text-anchor="middle">0</text>
<text x="320.2" y="481.4" font-size="10.6" fill="#000" stroke="#000" stroke-width="0.15" text-anchor="middle">10</text>
<text x="376.2" y="481.4" font-size="10.6" fill="#000" stroke="#000" stroke-width="0.15" text-anchor="middle">20</text>
<text x="432.2" y="481.4" font-size="10.6" fill="#000" stroke="#000" stroke-width="0.15" text-anchor="middle">30</text>
<text x="489.2" y="481.4" font-size="10.6" fill="#000" stroke="#000" stroke-width="0.15" text-anchor="middle">40</text>
<text x="197.6" y="496.6" font-size="10.6" fill="#000" stroke="#000" stroke-width="0.15" text-anchor="start" textLength="82.8" lengthAdjust="spacingAndGlyphs">Temperature [°C]</text>
<text x="287.0" y="496.6" font-size="10.6" fill="#000" stroke="#000" stroke-width="0.15" text-anchor="start">/</text>
<text x="303.0" y="496.6" font-size="10.6" fill="#3cc020" stroke="#3cc020" stroke-width="0.15" text-anchor="start" textLength="83.5" lengthAdjust="spacingAndGlyphs">Mixing ratio [g/kg]</text>
<text x="512.0" y="495.3" font-size="10.6" fill="#0000ff" stroke="#0000ff" stroke-width="0.15" text-anchor="start" textLength="76.8" lengthAdjust="spacingAndGlyphs">SFC: 215 m ASL</text>
<text transform="translate(11,334) rotate(-90)" font-size="10.6" fill="#000" stroke="#000" stroke-width="0.15" textLength="70.2" lengthAdjust="spacingAndGlyphs">Pressure [hPa]</text>
<text transform="translate(11,256.3) rotate(-90)" font-size="10.6" fill="#000" stroke="#000" stroke-width="0.15">/</text>
<text transform="translate(11,242.5) rotate(-90)" font-size="10.6" fill="#0000ff" stroke="#0000ff" stroke-width="0.15" textLength="58.8" lengthAdjust="spacingAndGlyphs">Altitude [km]</text>
<g stroke="#000" stroke-width="1.25" fill="none" stroke-linecap="butt"><rect x="554.0" y="17.0" width="3" height="3" fill="#000" stroke="none"/><line x1="555.5" y1="18.5" x2="570.5" y2="-2.0"/><line x1="570.5" y1="-2.0" x2="578.6" y2="3.9"/><line x1="568.8" y1="0.3" x2="576.9" y2="6.2"/></g>
<g stroke="#000" stroke-width="1.25" fill="none" stroke-linecap="butt"><rect x="554.0" y="49.0" width="3" height="3" fill="#000" stroke="none"/><line x1="555.5" y1="50.5" x2="576.5" y2="37.2"/><line x1="576.5" y1="37.2" x2="581.9" y2="45.6"/><line x1="574.1" y1="38.7" x2="579.5" y2="47.1"/><line x1="571.8" y1="40.2" x2="574.4" y2="44.4"/></g>
<g stroke="#000" stroke-width="1.25" fill="none" stroke-linecap="butt"><rect x="554.0" y="80.0" width="3" height="3" fill="#000" stroke="none"/><line x1="555.5" y1="81.5" x2="574.5" y2="65.2"/><line x1="574.5" y1="65.2" x2="581.0" y2="72.8"/><line x1="572.4" y1="67.0" x2="578.9" y2="74.6"/></g>
<g stroke="#000" stroke-width="1.25" fill="none" stroke-linecap="butt"><rect x="554.0" y="112.0" width="3" height="3" fill="#000" stroke="none"/><line x1="555.5" y1="113.5" x2="576.5" y2="100.0"/><line x1="576.5" y1="100.0" x2="581.9" y2="108.4"/><line x1="574.1" y1="101.5" x2="579.6" y2="109.9"/><line x1="571.8" y1="103.0" x2="577.2" y2="111.4"/></g>
<g stroke="#000" stroke-width="1.25" fill="none" stroke-linecap="butt"><rect x="554.0" y="144.0" width="3" height="3" fill="#000" stroke="none"/><line x1="555.5" y1="145.5" x2="577.5" y2="134.2"/><polygon points="577.5,134.2 574.4,135.8 582.5,144.0" fill="#000"/><line x1="572.8" y1="136.6" x2="575.1" y2="141.1"/></g>
<g stroke="#000" stroke-width="1.25" fill="none" stroke-linecap="butt"><rect x="554.0" y="175.0" width="3" height="3" fill="#000" stroke="none"/><line x1="555.5" y1="176.5" x2="578.0" y2="167.5"/><polygon points="578.0,167.5 574.8,168.8 582.1,177.7" fill="#000"/></g>
<g stroke="#000" stroke-width="1.25" fill="none" stroke-linecap="butt"><rect x="554.0" y="206.0" width="3" height="3" fill="#000" stroke="none"/><line x1="555.5" y1="207.5" x2="578.5" y2="199.5"/><polygon points="578.5,199.5 575.2,200.6 582.1,209.9" fill="#000"/><line x1="573.5" y1="201.2" x2="576.8" y2="210.7"/><line x1="570.8" y1="202.2" x2="572.5" y2="206.9"/></g>
<g stroke="#ff0000" stroke-width="1.25" fill="none" stroke-linecap="butt"><rect x="554.0" y="199.0" width="3" height="3" fill="#ff0000" stroke="none"/><line x1="555.5" y1="200.5" x2="579.2" y2="194.8"/><polygon points="579.2,194.8 575.8,195.6 581.8,205.5" fill="#ff0000"/><line x1="574.0" y1="196.0" x2="576.4" y2="205.8"/><line x1="571.3" y1="196.7" x2="572.5" y2="201.6"/></g>
<g stroke="#000" stroke-width="1.25" fill="none" stroke-linecap="butt"><rect x="554.0" y="236.0" width="3" height="3" fill="#000" stroke="none"/><line x1="555.5" y1="237.5" x2="578.0" y2="229.5"/><polygon points="578.0,229.5 574.7,230.7 581.7,239.9" fill="#000"/><line x1="573.0" y1="231.3" x2="576.4" y2="240.7"/></g>
<g stroke="#000" stroke-width="1.25" fill="none" stroke-linecap="butt"><rect x="554.0" y="265.0" width="3" height="3" fill="#000" stroke="none"/><line x1="555.5" y1="266.5" x2="578.5" y2="258.5"/><polygon points="578.5,258.5 575.2,259.6 582.1,268.9" fill="#000"/></g>
<g stroke="#000" stroke-width="1.25" fill="none" stroke-linecap="butt"><rect x="554.0" y="293.0" width="3" height="3" fill="#000" stroke="none"/><line x1="555.5" y1="294.5" x2="577.5" y2="284.0"/><line x1="577.5" y1="284.0" x2="581.8" y2="293.0"/><line x1="575.0" y1="285.2" x2="579.3" y2="294.2"/><line x1="572.4" y1="286.4" x2="576.8" y2="295.4"/><line x1="569.9" y1="287.6" x2="574.2" y2="296.6"/><line x1="567.4" y1="288.8" x2="569.5" y2="293.3"/></g>
<g stroke="#000" stroke-width="1.25" fill="none" stroke-linecap="butt"><rect x="554.0" y="320.0" width="3" height="3" fill="#000" stroke="none"/><line x1="555.5" y1="321.5" x2="579.5" y2="314.5"/><line x1="579.5" y1="314.5" x2="582.3" y2="324.1"/><line x1="576.8" y1="315.3" x2="579.6" y2="324.9"/><line x1="574.1" y1="316.1" x2="576.9" y2="325.7"/><line x1="571.4" y1="316.9" x2="574.2" y2="326.5"/><line x1="568.7" y1="317.6" x2="570.1" y2="322.4"/></g>
<g stroke="#000" stroke-width="1.25" fill="none" stroke-linecap="butt"><rect x="554.0" y="346.0" width="3" height="3" fill="#000" stroke="none"/><line x1="555.5" y1="347.5" x2="579.8" y2="343.2"/><line x1="579.8" y1="343.2" x2="581.5" y2="353.0"/><line x1="577.0" y1="343.7" x2="578.8" y2="353.5"/><line x1="574.3" y1="344.2" x2="576.0" y2="354.0"/></g>
<g stroke="#000" stroke-width="1.25" fill="none" stroke-linecap="butt"><rect x="554.0" y="371.0" width="3" height="3" fill="#000" stroke="none"/><line x1="555.5" y1="372.5" x2="574.5" y2="356.2"/><line x1="574.5" y1="356.2" x2="581.0" y2="363.8"/><line x1="572.4" y1="358.0" x2="578.9" y2="365.6"/><line x1="570.2" y1="359.8" x2="576.8" y2="367.4"/></g>
<g stroke="#000" stroke-width="1.25" fill="none" stroke-linecap="butt"><rect x="554.0" y="396.0" width="3" height="3" fill="#000" stroke="none"/><line x1="555.5" y1="397.5" x2="572.2" y2="379.2"/><line x1="572.2" y1="379.2" x2="579.6" y2="385.9"/><line x1="570.3" y1="381.3" x2="577.7" y2="388.0"/></g>
<g stroke="#000" stroke-width="1.25" fill="none" stroke-linecap="butt"><rect x="554.0" y="421.0" width="3" height="3" fill="#000" stroke="none"/><line x1="555.5" y1="422.5" x2="569.0" y2="402.0"/><line x1="569.0" y1="402.0" x2="577.4" y2="407.5"/><line x1="567.5" y1="404.3" x2="571.6" y2="407.1"/></g>
<g stroke="#000" stroke-width="1.25" fill="none" stroke-linecap="butt"><rect x="554.0" y="445.0" width="3" height="3" fill="#000" stroke="none"/><line x1="555.5" y1="446.5" x2="568.3" y2="425.0"/><line x1="568.3" y1="425.0" x2="576.9" y2="430.1"/></g>
<g stroke="#0000ff" stroke-width="1.25" fill="none" stroke-linecap="butt"><rect x="554.0" y="464.0" width="3" height="3" fill="#0000ff" stroke="none"/><line x1="555.5" y1="465.5" x2="563.5" y2="442.0"/></g>
<line x1="466" y1="419.5" x2="471" y2="419.5" stroke="#ff0000" stroke-width="1.2"/>
<text x="472.5" y="424.0" font-size="10.6" fill="#ff0000" stroke="#ff0000" stroke-width="0.15" text-anchor="start">FZLV</text>
</svg>
</body></html>
